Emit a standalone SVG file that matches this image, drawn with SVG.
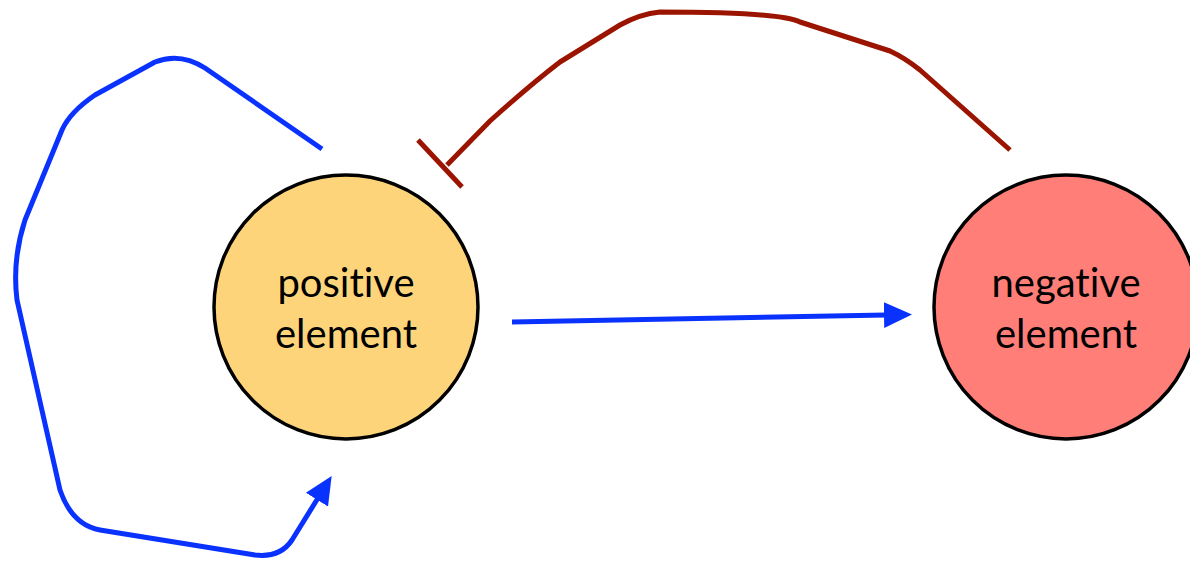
<svg xmlns="http://www.w3.org/2000/svg" width="1190" height="563" viewBox="0 0 1190 563">
<style>
.node{stroke:#000;stroke-width:3.5}
.lbl{font-family:Lato,"Open Sans",sans-serif;font-size:40px;fill:#000;text-anchor:middle;font-variant-ligatures:none}
.act{fill:none;stroke:#0a32ff;stroke-width:5;stroke-linecap:butt;stroke-linejoin:round}
.inh{fill:none;stroke:#9a1400;stroke-width:5;stroke-linejoin:round}
</style>
<defs>
<marker id="arr" markerUnits="userSpaceOnUse" markerWidth="30" markerHeight="30" refX="2" refY="13" orient="auto" viewBox="0 0 30 26">
<path d="M0,0 L28,13 L0,26 Z" fill="#0a32ff"/>
</marker>
</defs>
<g id="positive">
<circle class="node" cx="346" cy="307" r="132" fill="#fed47b"/>
<text class="lbl" x="346" y="297">positive</text>
<text class="lbl" x="346" y="348">element</text>
</g>
<g id="negative">
<circle class="node" cx="1066" cy="307" r="132" fill="#ff7e78"/>
<text class="lbl" x="1066" y="297">negative</text>
<text class="lbl" x="1066" y="348">element</text>
</g>
<g id="connectors">
<path class="act" d="M512,322 L886,315" marker-end="url(#arr)"/>
<path class="act" d="M322,149 L205,68 Q180,52 155,62 L95,95 Q70,112 62,130 L25,220 Q12,260 17,300 L60,490 Q72,525 100,530 L255,555 Q280,558 292,540 L318,498" marker-end="url(#arr)"/>
<path class="inh" d="M1010,150 L920,70 Q905,58 890,51 L800,22 Q780,12 660,12 Q640,14 620,25 L560,62 Q530,85 490,121 L447,165"/>
<line class="inh" x1="418" y1="140" x2="462" y2="187"/>
</g>
</svg>
